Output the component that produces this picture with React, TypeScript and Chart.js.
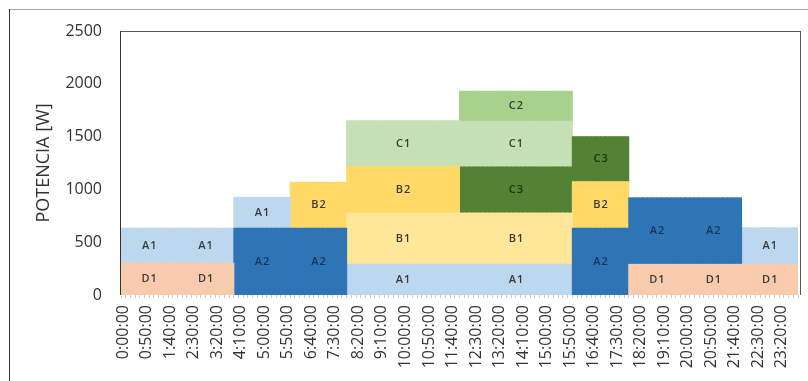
import React, { useEffect, useRef } from 'react';
import { Chart, registerables } from 'chart.js';

Chart.register(...registerables);

// 10-minute slots over one day, grouped into 2-hour blocks
const SLOT_MINUTES = 10;
const SLOTS_PER_BLOCK = 12;
const BLOCK_COUNT = 12; // 0-2h, 2-4h, ..., 22-24h

// Tick labels shown on the x axis (every 5th slot)
const TICK_LABELS = [
  '0:00:00', '0:50:00', '1:40:00', '2:30:00', '3:20:00', '4:10:00', '5:00:00', '5:50:00',
  '6:40:00', '7:30:00', '8:20:00', '9:10:00', '10:00:00', '10:50:00', '11:40:00', '12:30:00',
  '13:20:00', '14:10:00', '15:00:00', '15:50:00', '16:40:00', '17:30:00', '18:20:00', '19:10:00',
  '20:00:00', '20:50:00', '21:40:00', '22:30:00', '23:20:00',
];
const TICK_EVERY = 5;

const Y_TICKS = [0, 500, 1000, 1500, 2000, 2500];

// Power [W] of each load per 2-hour block (stack order bottom -> top)
const D1 = [300, 300, 0, 0, 0, 0, 0, 0, 0, 290, 290, 290];
const A2 = [0, 0, 632, 632, 0, 0, 0, 0, 632, 630, 630, 0];
const A1 = [332, 332, 293, 0, 291, 291, 291, 291, 0, 0, 0, 346];
const B1 = [0, 0, 0, 0, 485, 485, 485, 485, 0, 0, 0, 0];
const B2 = [0, 0, 0, 435, 441, 441, 0, 0, 441, 0, 0, 0];
const C3 = [0, 0, 0, 0, 0, 0, 436, 436, 426, 0, 0, 0];
const C1 = [0, 0, 0, 0, 433, 433, 433, 433, 0, 0, 0, 0];
const C2 = [0, 0, 0, 0, 0, 0, 284, 284, 0, 0, 0, 0];

const SERIES_NAMES = ['D1', 'A2', 'A1', 'B1', 'B2', 'C3', 'C1', 'C2'];
const SERIES_VALUES = [D1, A2, A1, B1, B2, C3, C1, C2];
const SERIES_COLORS = ['#F8CBAD', '#2E75B6', '#BDD7EE', '#FFE699', '#FFD966', '#548235', '#C5E0B4', '#A9D18E'];
const LABEL_COLORS = ['#3a3a3a', '#1b3358', '#3a3a3a', '#3a3a3a', '#3a3a3a', '#1c3112', '#3a3a3a', '#3a3a3a'];

// Block ranges [fromBlock, toBlock] where each series carries a text label
const LABEL_BLOCKS: number[][][] = [
  [[0, 0], [1, 1], [9, 9], [10, 10], [11, 11]], // D1
  [[2, 2], [3, 3], [8, 8], [9, 9], [10, 10]], // A2
  [[0, 0], [1, 1], [2, 2], [4, 5], [6, 7], [11, 11]], // A1
  [[4, 5], [6, 7]], // B1
  [[3, 3], [4, 5], [8, 8]], // B2
  [[6, 7], [8, 8]], // C3
  [[4, 5], [6, 7]], // C1
  [[6, 7]], // C2
];

const CATEGORIES: string[] = [];
for (let i = 0; i < BLOCK_COUNT * SLOTS_PER_BLOCK; i++) {
  const m = i * SLOT_MINUTES;
  CATEGORIES.push(`${Math.floor(m / 60)}:${String(m % 60).padStart(2, '0')}:00`);
}

const expand = (blocks: number[]) => {
  const out: (number | null)[] = [];
  blocks.forEach((v) => {
    for (let k = 0; k < SLOTS_PER_BLOCK; k++) out.push(v > 0 ? v : null);
  });
  return out;
};

const overlayPlugin = {
  id: 'overlay',
  afterDatasetsDraw(chart: any) {
    const ctx = chart.ctx as CanvasRenderingContext2D;
    ctx.save();
    ctx.font = '600 11px "Open Sans"';
    (ctx as any).letterSpacing = '1px';
    ctx.textAlign = 'center';
    ctx.textBaseline = 'middle';
    LABEL_BLOCKS.forEach((ranges, di) => {
      const meta = chart.getDatasetMeta(di);
      ranges.forEach(([from, to]) => {
        const a = meta.data[from * SLOTS_PER_BLOCK];
        const b = meta.data[to * SLOTS_PER_BLOCK + SLOTS_PER_BLOCK - 1];
        if (!a || !b) return;
        const x = (a.x + b.x) / 2 + 0.5;
        const y = (a.y + a.base) / 2;
        ctx.fillStyle = LABEL_COLORS[di];
        ctx.fillText(SERIES_NAMES[di], x, y);
      });
    });
    ctx.restore();
  },
  afterDraw(chart: any) {
    const ctx = chart.ctx as CanvasRenderingContext2D;
    const { left, right, top, bottom } = chart.chartArea;
    ctx.save();
    ctx.lineWidth = 1;
    ctx.strokeStyle = '#595959';
    ctx.beginPath();
    ctx.moveTo(left - 1, top + 0.5);
    ctx.lineTo(right + 2, top + 0.5);
    ctx.moveTo(right + 2.5, top);
    ctx.lineTo(right + 2.5, bottom);
    ctx.stroke();
    ctx.strokeStyle = '#333333';
    ctx.beginPath();
    ctx.moveTo(left - 0.5, top);
    ctx.lineTo(left - 0.5, bottom);
    ctx.stroke();
    // y axis title
    ctx.fillStyle = '#333333';
    ctx.font = '18px "Open Sans"';
    ctx.textAlign = 'center';
    ctx.textBaseline = 'middle';
    ctx.translate(44, (top + bottom) / 2);
    ctx.rotate(-Math.PI / 2);
    ctx.fillText('POTENCIA [W]', 0, 0);
    ctx.restore();
  },
};

export default function App() {
  const ref = useRef<HTMLCanvasElement | null>(null);

  useEffect(() => {
    if (!ref.current) return;
    const chart = new Chart(ref.current, {
      type: 'bar',
      data: {
        labels: CATEGORIES,
        datasets: SERIES_NAMES.map((name, i) => ({
          label: name,
          data: expand(SERIES_VALUES[i]),
          backgroundColor: SERIES_COLORS[i],
          borderWidth: 0,
          barPercentage: 1,
          categoryPercentage: 1,
          inflateAmount: 0.5,
        })),
      },
      options: {
        responsive: false,
        animation: false,
        layout: { padding: { left: 0, right: 10, top: 31, bottom: 0 } },
        plugins: { legend: { display: false }, tooltip: { enabled: false } },
        scales: {
          x: {
            stacked: true,
            grid: {
              display: true,
              drawOnChartArea: false,
              drawTicks: true,
              tickLength: 3,
              color: '#cccccc',
            },
            border: { display: false },
            ticks: {
              autoSkip: false,
              minRotation: 90,
              maxRotation: 90,
              padding: 7,
              color: '#333333',
              font: { family: '"Open Sans"', size: 16 },
              callback: (_v: any, idx: number) =>
                idx % TICK_EVERY === 0 ? TICK_LABELS[idx / TICK_EVERY] ?? '' : '',
            },
            afterFit: (s: any) => {
              s.height = 86;
              s.paddingLeft = 0;
              s.paddingRight = 0;
            },
          },
          y: {
            stacked: true,
            min: Y_TICKS[0],
            max: Y_TICKS[Y_TICKS.length - 1],
            grid: { display: false, drawTicks: false },
            border: { display: false },
            ticks: {
              stepSize: Y_TICKS[1] - Y_TICKS[0],
              padding: 19,
              color: '#333333',
              font: { family: '"Open Sans"', size: 16 },
              callback: (v: any) => String(v),
            },
            afterFit: (s: any) => {
              s.width = 121;
              s.paddingTop = 0;
              s.paddingBottom = 0;
            },
          },
        },
      },
      plugins: [overlayPlugin],
    });
    return () => chart.destroy();
  }, []);

  return (
    <div style={{ position: 'absolute', left: 0, top: 0, width: 808, height: 381, background: '#fff', overflow: 'hidden' }}>
      <div style={{ position: 'absolute', left: 9, top: 9, width: 799, height: 0, borderTop: '1px solid #a6a6a6' }} />
      <div style={{ position: 'absolute', left: 9, top: 9, width: 0, height: 372, borderLeft: '1px solid #333333' }} />
      <canvas ref={ref} width={808} height={381} style={{ position: 'absolute', left: 0, top: 0, display: 'block' }} />
    </div>
  );
}
